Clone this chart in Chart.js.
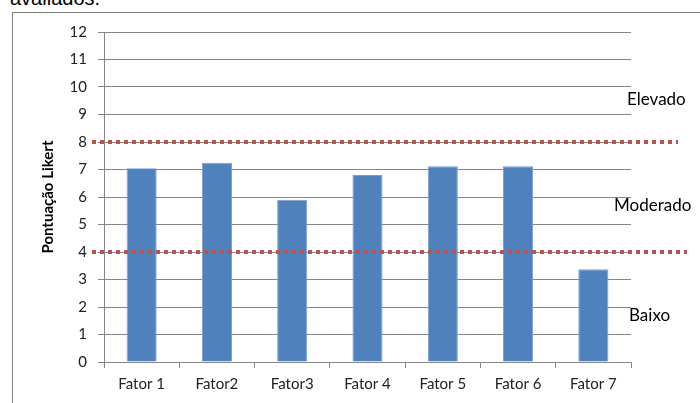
<!DOCTYPE html>
<html>
<head>
<meta charset="utf-8">
<script src="https://cdn.jsdelivr.net/npm/chart.js@4"></script>
<style>
  html, body { margin: 0; padding: 0; background: #fff; width: 700px; height: 403px; overflow: hidden; }
  #caption { position: absolute; left: 10px; top: -13px; font-family: "Liberation Sans", Arial, sans-serif; font-size: 20px; color: #000; white-space: nowrap; }
  #frame { position: absolute; left: 12px; top: 12px; width: 700px; height: 400px; border-left: 1px solid #808080; border-top: 1px solid #808080; }
  #wrap { position: absolute; left: 0; top: 0; width: 700px; height: 403px; }
</style>
</head>
<body>
<div id="caption">avaliados.</div>
<div id="frame"></div>
<div id="wrap"><canvas id="c" width="700" height="403"></canvas></div>
<script>
const categories = ["Fator 1", "Fator2", "Fator3", "Fator 4", "Fator 5", "Fator 6", "Fator 7"];
const scores = [7.05, 7.25, 5.9, 6.8, 7.12, 7.12, 3.37];
const thresholds = [8, 4];
const zoneLabels = ["Elevado", "Moderado", "Baixo"];
const zoneLabelValues = [9.55, 5.7, 1.68];
const yTitle = "Pontuação Likert";

const fontFam = "Lato, 'Open Sans', sans-serif";

const overlay = {
  id: 'overlay',
  afterDatasetsDraw(chart) {
    const ctx = chart.ctx;
    const y = chart.scales.y;
    const ends = [678, 687];
    ctx.save();
    ctx.strokeStyle = '#c0504d';
    ctx.lineWidth = 4;
    ctx.setLineDash([4, 4]);
    thresholds.forEach((t, i) => {
      const py = y.getPixelForValue(t);
      ctx.beginPath();
      ctx.moveTo(92, py);
      ctx.lineTo(ends[i], py);
      ctx.stroke();
    });
    ctx.setLineDash([]);
    ctx.fillStyle = '#000';
    ctx.font = "17px " + fontFam;
    ctx.textBaseline = 'middle';
    const xs = [627, 614, 629];
    zoneLabels.forEach((l, i) => {
      ctx.fillText(l, xs[i], y.getPixelForValue(zoneLabelValues[i]));
    });
    ctx.restore();
  }
};

new Chart(document.getElementById('c'), {
  type: 'bar',
  data: {
    labels: categories,
    datasets: [{
      data: scores,
      backgroundColor: '#4f81bd',
      borderColor: '#7a9fd0',
      borderWidth: 1,
      categoryPercentage: 1,
      barPercentage: 0.4
    }]
  },
  options: {
    responsive: false,
    animation: false,
    devicePixelRatio: 1,
    layout: { padding: { left: 30, right: 69, top: 32, bottom: 0 } },
    plugins: { legend: { display: false }, tooltip: { enabled: false } },
    scales: {
      y: {
        min: 0, max: 12,
        ticks: { stepSize: 1, color: '#222', font: { family: fontFam, size: 15 }, padding: 11 },
        grid: { color: '#868686', lineWidth: 1, tickLength: 6, drawTicks: true },
        border: { color: '#868686' },
        title: { display: true, text: yTitle, color: '#000', font: { family: fontFam, size: 15, weight: 'bold' }, padding: { top: 9, bottom: 0 } },
        afterFit(s) { s.width = 74; }
      },
      x: {
        offset: true,
        ticks: { color: '#222', font: { family: fontFam, size: 15 }, padding: 7 },
        grid: { offset: true, drawOnChartArea: false, color: '#868686', tickLength: 6 },
        border: { color: '#868686' },
        afterFit(s) { s.height = 41; }
      }
    }
  },
  plugins: [overlay]
});
</script>
</body>
</html>
